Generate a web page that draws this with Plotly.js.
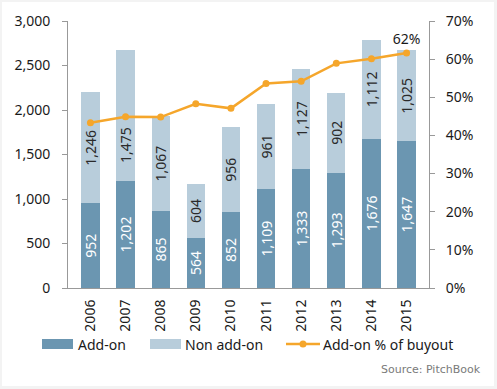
<!DOCTYPE html>
<html>
<head>
<meta charset="utf-8">
<script src="https://cdn.plot.ly/plotly-3.0.1.min.js"></script>
<style>
  html, body { margin: 0; padding: 0; background: #f3f3f3; }
  #card { position: absolute; left: 2px; top: 2px; width: 492px; height: 384px; background: #ffffff; }
  #chart { position: absolute; left: 0; top: 0; width: 497px; height: 389px; }
</style>
</head>
<body>
<div id="card"></div>
<div id="chart"></div>
<script>
// ---- data ----
const years = ['2006','2007','2008','2009','2010','2011','2012','2013','2014','2015'];
const addOn = [952, 1202, 865, 564, 852, 1109, 1333, 1293, 1676, 1647];
const nonAddOn = [1246, 1475, 1067, 604, 956, 961, 1127, 902, 1112, 1025];
const addOnPct = [43.3, 44.9, 44.8, 48.3, 47.1, 53.6, 54.2, 58.9, 60.1, 61.6];
const pctLabels = ['', '', '', '', '', '', '', '', '', '62%'];
const seriesNames = ['Add-on', 'Non add-on', 'Add-on % of buyout'];
const sourceText = 'Source: PitchBook';
// index of the non add-on label that is nudged down below the line
const nudgedIdx = 1;

// ---- styles ----
const FONT = 'Noto Sans, Open Sans, sans-serif';
const DARK = '#6b96b1';
const LIGHT = '#b8cddb';
const ORANGE = '#f5a62b';
const TXT = '#1a1a1a';
const AXIS = '#999999';

const fmt = v => v.toLocaleString('en-US');
const nonLabels = nonAddOn.map((v, i) => i === nudgedIdx ? '' : fmt(v));

const traces = [
  {
    type: 'bar', x: years, y: addOn, name: seriesNames[0],
    marker: { color: DARK },
    text: addOn.map(fmt), textposition: 'inside', insidetextanchor: 'middle',
    textangle: -90, constraintext: 'none',
    textfont: { family: FONT, size: 14, color: '#ffffff' },
    hoverinfo: 'none'
  },
  {
    type: 'bar', x: years, y: nonAddOn, name: seriesNames[1],
    marker: { color: LIGHT },
    text: nonLabels, textposition: 'inside', insidetextanchor: 'middle',
    textangle: -90, constraintext: 'none',
    textfont: { family: FONT, size: 14, color: '#2a2a2a' },
    hoverinfo: 'none'
  },
  {
    type: 'scatter', mode: 'lines+markers+text', x: years, y: addOnPct, yaxis: 'y2',
    name: seriesNames[2],
    line: { color: ORANGE, width: 2.5 },
    marker: { color: ORANGE, size: 7 },
    text: pctLabels, textposition: 'top center',
    textfont: { family: FONT, size: 14, color: TXT },
    cliponaxis: false,
    hoverinfo: 'none'
  }
];

// custom legend (shapes + text), positions in pixel → paper conversion
const L = 68, R = 68, T = 21, B = 101, W = 497, H = 389;
const pw = W - L - R, ph = H - T - B;
const px = x => (x - L) / pw;
const py = y => (H - B - y) / ph;

const shapes = [
  { type: 'rect', xref: 'paper', yref: 'paper', x0: px(42), x1: px(73), y0: py(349), y1: py(339),
    fillcolor: DARK, line: { width: 0 } },
  { type: 'rect', xref: 'paper', yref: 'paper', x0: px(150), x1: px(181), y0: py(349), y1: py(339),
    fillcolor: LIGHT, line: { width: 0 } },
  { type: 'line', xref: 'paper', yref: 'paper', x0: px(286), x1: px(320), y0: py(344), y1: py(344),
    line: { color: ORANGE, width: 2.5 } },
  { type: 'circle', xref: 'paper', yref: 'paper', x0: px(299.5), x1: px(306.5), y0: py(347.5), y1: py(340.5),
    fillcolor: ORANGE, line: { width: 0 } }
];

const annotations = [
  // nudged data label (x given as category index)
  { xref: 'x', yref: 'y', x: nudgedIdx, y: addOn[nudgedIdx] + nonAddOn[nudgedIdx] / 2,
    yshift: -30, textangle: -90, text: fmt(nonAddOn[nudgedIdx]), showarrow: false,
    font: { family: FONT, size: 14, color: '#2a2a2a' } },
  { xref: 'paper', yref: 'paper', x: px(76), y: py(344), xanchor: 'left', yanchor: 'middle',
    text: seriesNames[0], showarrow: false, font: { family: FONT, size: 14, color: TXT } },
  { xref: 'paper', yref: 'paper', x: px(183), y: py(344), xanchor: 'left', yanchor: 'middle',
    text: seriesNames[1], showarrow: false, font: { family: FONT, size: 14, color: TXT } },
  { xref: 'paper', yref: 'paper', x: px(321), y: py(344), xanchor: 'left', yanchor: 'middle',
    text: seriesNames[2], showarrow: false, font: { family: FONT, size: 14, color: TXT } },
  { xref: 'paper', yref: 'paper', x: px(483), y: py(369), xanchor: 'right', yanchor: 'middle',
    text: sourceText, showarrow: false, font: { family: 'DejaVu Sans, sans-serif', size: 11, color: '#7a7a7a' } }
];

const layout = {
  width: W, height: H,
  margin: { l: L, r: R, t: T, b: B, pad: 0 },
  paper_bgcolor: 'rgba(0,0,0,0)',
  plot_bgcolor: 'rgba(0,0,0,0)',
  barmode: 'stack',
  bargap: 0.48,
  showlegend: false,
  font: { family: FONT, size: 14, color: TXT },
  xaxis: {
    type: 'category', categoryorder: 'array', categoryarray: years,
    tickangle: -90, showline: true, linecolor: AXIS, linewidth: 1,
    ticks: '', showgrid: false, zeroline: false, fixedrange: true,
    tickfont: { family: FONT, size: 14, color: TXT }, ticklabelstandoff: 5
  },
  yaxis: {
    range: [0, 3000], dtick: 500, tickformat: ',', showline: true, linecolor: AXIS, linewidth: 1,
    ticks: 'outside', ticklen: 5, tickcolor: AXIS, showgrid: false, zeroline: false,
    tickfont: { family: FONT, size: 14, color: TXT }, ticklabelstandoff: 9, fixedrange: true
  },
  yaxis2: {
    overlaying: 'y', side: 'right', range: [0, 70], dtick: 10, ticksuffix: '%',
    showline: true, linecolor: AXIS, linewidth: 1,
    ticks: 'outside', ticklen: 5, tickcolor: AXIS, showgrid: false, zeroline: false,
    tickfont: { family: FONT, size: 14, color: TXT }, ticklabelstandoff: 8, fixedrange: true
  },
  shapes: shapes,
  annotations: annotations
};

Plotly.newPlot('chart', traces, layout, { staticPlot: true, displayModeBar: false });
</script>
</body>
</html>
